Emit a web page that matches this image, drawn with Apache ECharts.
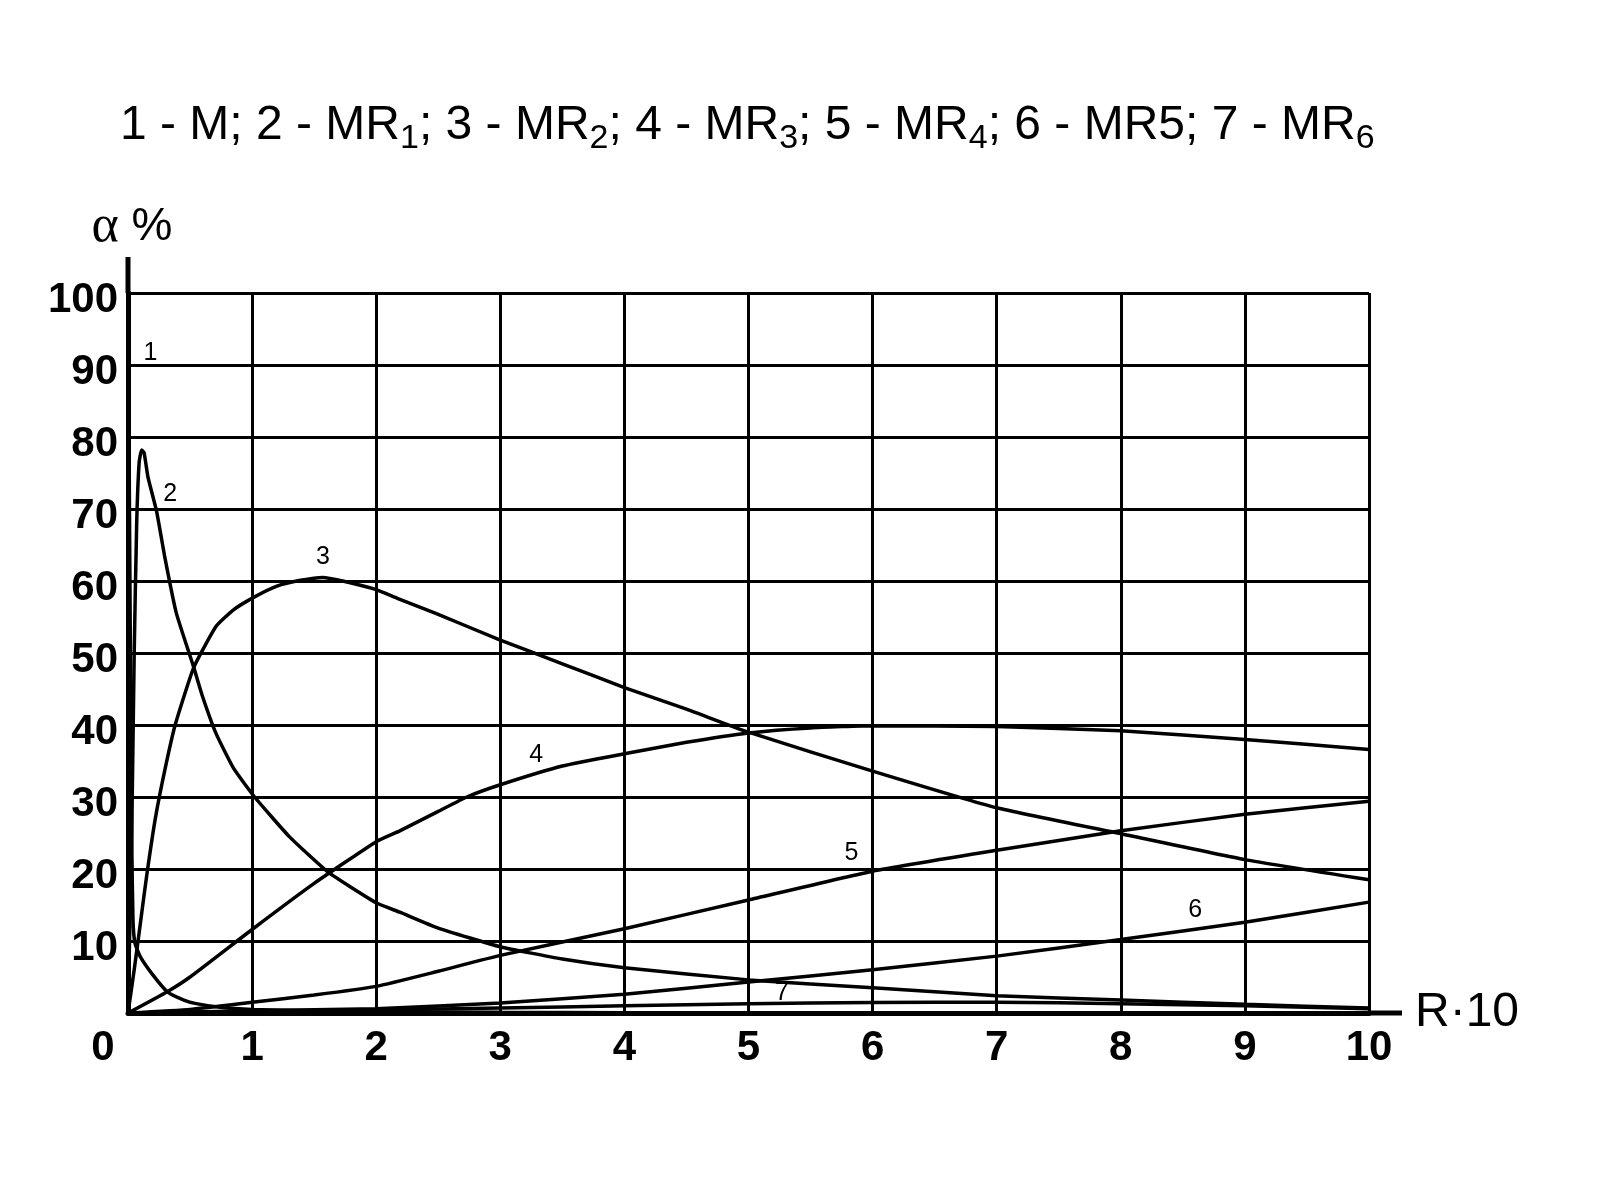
<!DOCTYPE html>
<html>
<head>
<meta charset="utf-8">
<script src="https://cdn.jsdelivr.net/npm/echarts@6/dist/echarts.min.js"></script>
<style>
html,body{margin:0;padding:0;background:#fff;}
#c{width:1600px;height:1200px;}
</style>
</head>
<body>
<div id="c"></div>
<script>
// ---- data (x = R·10, y = α %) ----
const curveM   = [[0,100],[0.01,75],[0.02,48],[0.03,24],[0.04,13],[0.056,9.7],[0.1,7.8],[0.2,5.3],[0.32,2.9],[0.45,1.8],[0.55,1.3],[0.74,0.8],[1,0.5],[1.5,0.3],[2,0.2],[3,0.1],[5,0],[10,0]];
const curveMR1 = [[0,0],[0.03,25],[0.05,50],[0.07,68],[0.09,76.5],[0.11,78.2],[0.13,77.8],[0.16,74.5],[0.23,69.7],[0.3,63],[0.39,55.5],[0.53,48],[0.6,44],[0.71,38.8],[0.85,34],[1.02,30],[1.3,24.5],[1.61,19.6],[2,15.3],[2.19,14],[2.5,11.8],[3,9.2],[3.5,7.5],[4,6.3],[5,4.6],[6,3.5],[7,2.4],[8,1.8],[9,1.2],[10,0.7]];
const curveMR2 = [[0,0],[0.05,6],[0.1,12.5],[0.15,19],[0.22,27],[0.3,34],[0.38,40],[0.53,48],[0.71,53.7],[0.85,56],[1.02,57.8],[1.2,59.3],[1.39,60.1],[1.57,60.5],[1.73,60],[2,58.8],[2.17,57.6],[2.48,55.5],[3,51.8],[3.5,48.5],[4,45.2],[4.5,42.2],[5,39],[6,33.6],[7,28.5],[8,24.9],[9,21.3],[10,18.5]];
const curveMR3 = [[0,0],[0.32,3],[0.5,5],[1,11.6],[1.5,18],[2,23.8],[2.19,25.3],[2.5,28],[2.73,30],[3,31.7],[3.5,34.3],[4,36],[4.5,37.6],[5,38.9],[5.5,39.6],[6,39.9],[7,39.8],[8,39.2],[9,38],[10,36.6]];
const curveMR4 = [[0,0],[0.5,0.5],[1,1.5],[1.5,2.5],[2,3.7],[2.5,5.8],[3,8],[4,11.7],[5,15.7],[6,19.7],[7,22.6],[8,25.3],[9,27.6],[10,29.4]];
const curveMR5 = [[0,0],[1,0.3],[2,0.6],[3,1.4],[4,2.6],[5,4.3],[6,6.0],[7,7.9],[8,10.2],[9,12.6],[10,15.4]];
const curveMR6 = [[0,0],[1,0.2],[2,0.4],[3,0.7],[4,1.0],[5,1.3],[6,1.45],[7,1.5],[8,1.3],[9,1.0],[10,0.6]];

const curveNames = ['M','MR1','MR2','MR3','MR4','MR5','MR6'];
const curves = [curveM, curveMR1, curveMR2, curveMR3, curveMR4, curveMR5, curveMR6];

// curve number labels (anchor in data units)
const labelText = ['1','2','3','4','5','6','7'];
const labelX    = [0.18, 0.34, 1.57, 3.29, 5.83, 8.6, 5.27];
const labelY    = [91.7, 72, 63.3, 35.8, 22.2, 14.3, 2.7];

const titleText = '1 - M; 2 - MR{s|1}; 3 - MR{s|2}; 4 - MR{s|3}; 5 - MR{s|4}; 6 - MR5; 7 - MR{s|6}';
const xName = 'R·10';
const yName = '{a|α} %';

// ---- chart ----
const FONT = 'Liberation Sans, Arial, sans-serif';
const chart = echarts.init(document.getElementById('c'), null, {renderer: 'canvas'});

const lineSeries = curves.map((d, i) => ({
  name: curveNames[i],
  type: 'line',
  data: d,
  symbol: 'none',
  showSymbol: false,
  smooth: 0.15,
  lineStyle: {color: '#000', width: 3.5},
  z: 3,
  silent: true
}));

const option = {
  animation: false,
  backgroundColor: '#fff',
  title: {
    text: titleText,
    left: 115,
    top: 91,
    textStyle: {
      fontFamily: FONT, fontSize: 48, fontWeight: 'normal', color: '#000', lineHeight: 60,
      rich: {
        s: {fontFamily: FONT, fontSize: 34, lineHeight: 34, verticalAlign: 'bottom', color: '#000'}
      }
    }
  },
  grid: {left: 128, right: 231, top: 293, bottom: 187, containLabel: false, outerBoundsMode: 'none'},
  xAxis: {
    type: 'value', min: 0, max: 10, interval: 1,
    axisLine: {show: true, onZero: false, lineStyle: {color: '#000', width: 5}},
    axisTick: {show: false},
    splitLine: {show: true, lineStyle: {color: '#000', width: 3}},
    axisLabel: {
      margin: 14, fontSize: 42, fontWeight: 'bold', fontFamily: FONT, color: '#000',
      showMinLabel: true, showMaxLabel: true,
      formatter: v => v === 0 ? '{z|0}' : String(v),
      rich: {z: {fontSize: 42, fontWeight: 'bold', fontFamily: FONT, color: '#000', padding: [0, 50, 0, 0]}}
    },
    name: xName, nameLocation: 'end', nameGap: 46,
    nameTextStyle: {fontSize: 48, fontFamily: FONT, color: '#000', padding: [0, 0, 8, 0]}
  },
  yAxis: {
    type: 'value', min: 0, max: 100, interval: 10,
    axisLine: {show: true, onZero: false, lineStyle: {color: '#000', width: 5}},
    axisTick: {show: false},
    splitLine: {show: true, lineStyle: {color: '#000', width: 3}},
    axisLabel: {
      margin: 10, fontSize: 42, fontWeight: 'bold', fontFamily: FONT, color: '#000',
      formatter: v => v === 0 ? '' : '{v|' + v + '}',
      rich: {v: {fontSize: 42, fontWeight: 'bold', fontFamily: FONT, color: '#000', padding: [14, 0, 0, 0]}}
    },
    name: yName, nameLocation: 'end', nameGap: 40,
    nameTextStyle: {
      fontSize: 46, fontFamily: FONT, color: '#000', align: 'center', padding: [0, 0, 0, 8],
      rich: {a: {fontFamily: 'Liberation Serif, serif', fontSize: 52, color: '#000'}}
    }
  },
  series: lineSeries.concat([{
    name: 'labels',
    type: 'scatter',
    data: labelX.map((x, i) => [x, labelY[i], labelText[i]]),
    symbolSize: 0.01,
    itemStyle: {color: '#000', opacity: 1},
    silent: true,
    z: 5,
    label: {
      show: true, position: 'inside', formatter: p => p.value[2],
      fontSize: 25, fontFamily: FONT, color: '#000', opacity: 1, textBorderWidth: 0
    }
  }])
};
chart.setOption(option);

// extend the axis lines slightly beyond the grid, as in the reference
const pEndX = chart.convertToPixel({gridIndex: 0}, [10, 0]);
const pEndY = chart.convertToPixel({gridIndex: 0}, [0, 100]);
chart.setOption({
  graphic: [
    {type: 'line', shape: {x1: pEndX[0], y1: pEndX[1], x2: pEndX[0] + 33, y2: pEndX[1]}, style: {stroke: '#000', lineWidth: 5}, silent: true, z: 10},
    {type: 'line', shape: {x1: pEndY[0], y1: pEndY[1], x2: pEndY[0], y2: pEndY[1] - 36}, style: {stroke: '#000', lineWidth: 5}, silent: true, z: 10}
  ]
});
</script>
</body>
</html>
